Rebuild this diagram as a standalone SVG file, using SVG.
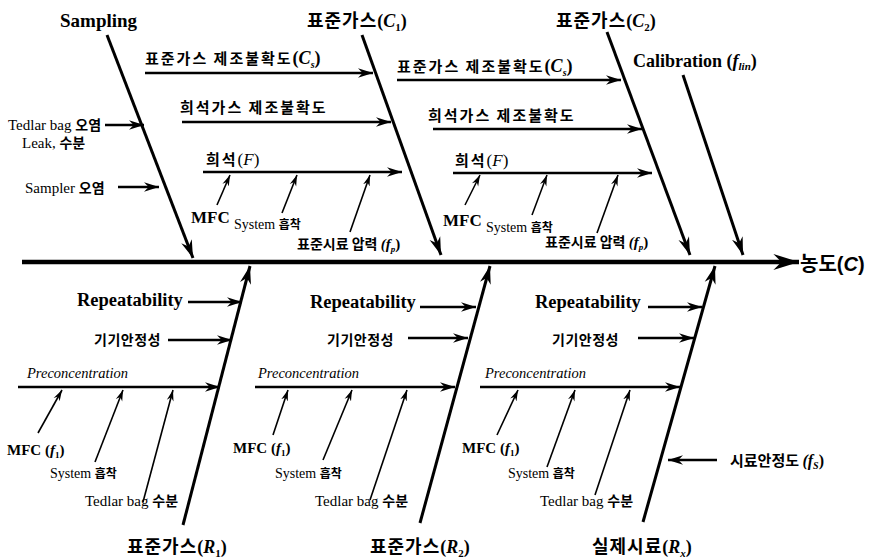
<svg xmlns="http://www.w3.org/2000/svg" width="878" height="558" viewBox="0 0 878 558">
<style>
text{fill:#000}
.ko{font-family:"Noto Sans CJK KR","Noto Sans",sans-serif;font-weight:700}
.se{font-family:"Liberation Serif","Times New Roman",serif}
.sa{font-family:"Liberation Sans",Arial,sans-serif}
.b{font-weight:700}
.i{font-style:italic}
.ln{stroke:#000;fill:none}
.spine{stroke-width:4.5;marker-end:url(#amain)}
.bone{stroke-width:3;marker-end:url(#ah)}
.sub{stroke-width:2.4;marker-end:url(#am)}
.tiny{stroke-width:1.6;marker-end:url(#as)}
.k16{font-size:15px;letter-spacing:2px}
.k14{font-size:14px;letter-spacing:0.5px}
.ttl{font-size:18px;letter-spacing:1px}
</style>
<defs>
<marker id="amain" markerUnits="userSpaceOnUse" viewBox="0 0 16 10" refX="16" refY="5" markerWidth="26" markerHeight="16" orient="auto"><path d="M0,0 L16,5 L0,10 L5,5 Z"/></marker>
<marker id="ah" markerUnits="userSpaceOnUse" viewBox="0 0 16 10" refX="16" refY="5" markerWidth="18" markerHeight="12" orient="auto"><path d="M0,0 L16,5 L0,10 L5,5 Z"/></marker>
<marker id="am" markerUnits="userSpaceOnUse" viewBox="0 0 16 10" refX="16" refY="5" markerWidth="15" markerHeight="10" orient="auto"><path d="M0,0 L16,5 L0,10 L5,5 Z"/></marker>
<marker id="as" markerUnits="userSpaceOnUse" viewBox="0 0 16 10" refX="16" refY="5" markerWidth="11" markerHeight="8" orient="auto"><path d="M0,0 L16,5 L0,10 L5,5 Z"/></marker>
</defs>

<g id="connectors">
<path class="ln spine" d="M22,262 L799,262"/>
<path class="ln bone" d="M107,35 L193,258"/>
<path class="ln bone" d="M362,35 L441,255"/>
<path class="ln bone" d="M607,32 L690,255"/>
<path class="ln bone" d="M683,75 L743,255"/>
<path class="ln bone" d="M183,525 L250,266"/>
<path class="ln bone" d="M420,523 L490,266"/>
<path class="ln bone" d="M643,522 L715,266"/>

<path class="ln sub" d="M105,125 L144,125"/>
<path class="ln sub" d="M118,187 L159,187"/>
<path class="ln sub" d="M145,73 L373,73"/>
<path class="ln sub" d="M182,122 L391,122"/>
<path class="ln sub" d="M203,172 L402,172"/>
<path class="ln sub" d="M397,80 L621,80"/>
<path class="ln sub" d="M433,129 L642,129"/>
<path class="ln sub" d="M453,173 L652,173"/>
<path class="ln sub" d="M188,302 L242,302"/>
<path class="ln sub" d="M168,340 L232,340"/>
<path class="ln sub" d="M18,387 L220,387"/>
<path class="ln sub" d="M420,307 L476,307"/>
<path class="ln sub" d="M408,338 L468,338"/>
<path class="ln sub" d="M255,387 L455,387"/>
<path class="ln sub" d="M648,307 L702,307"/>
<path class="ln sub" d="M638,338 L694,338"/>
<path class="ln sub" d="M480,387 L680,387"/>
<path class="ln sub" d="M717,460 L668,460"/>

<path class="ln tiny" d="M217,205 L230,175"/>
<path class="ln tiny" d="M282,213 L297,175"/>
<path class="ln tiny" d="M350,232 L370,175"/>
<path class="ln tiny" d="M465,205 L480,175"/>
<path class="ln tiny" d="M532,215 L547,175"/>
<path class="ln tiny" d="M597,233 L618,175"/>
<path class="ln tiny" d="M38,433 L62,390"/>
<path class="ln tiny" d="M95,462 L123,390"/>
<path class="ln tiny" d="M143,502 L173,390"/>
<path class="ln tiny" d="M273,435 L288,390"/>
<path class="ln tiny" d="M323,460 L352,390"/>
<path class="ln tiny" d="M370,500 L407,390"/>
<path class="ln tiny" d="M497,435 L518,390"/>
<path class="ln tiny" d="M547,467 L575,390"/>
<path class="ln tiny" d="M595,495 L630,390"/>
</g>

<g id="sampling"><text x="60" y="27" class="se b" font-size="19">Sampling</text></g>
<g id="std-gas-c1"><text x="307" y="27"><tspan class="ko ttl">표준가스</tspan><tspan class="se b" font-size="18">(</tspan><tspan class="se b i" font-size="18">C</tspan><tspan class="se b" font-size="11" dy="4">1</tspan><tspan class="se b" font-size="18" dy="-4">)</tspan></text></g>
<g id="std-gas-c2"><text x="556" y="27"><tspan class="ko ttl">표준가스</tspan><tspan class="se b" font-size="18">(</tspan><tspan class="se b i" font-size="18">C</tspan><tspan class="se b" font-size="11" dy="4">2</tspan><tspan class="se b" font-size="18" dy="-4">)</tspan></text></g>
<g id="calibration"><text x="633" y="67" font-size="18"><tspan class="se b">Calibration (</tspan><tspan class="se b i">f</tspan><tspan class="se b i" font-size="11" dy="3">lin</tspan><tspan class="se b" dy="-3">)</tspan></text></g>

<g id="tedlar-contam"><text x="8" y="130" font-size="15"><tspan class="se">Tedlar bag </tspan><tspan class="ko" font-size="14">오염</tspan></text><text x="22" y="148" font-size="15"><tspan class="se">Leak, </tspan><tspan class="ko" font-size="14">수분</tspan></text></g>
<g id="sampler-contam"><text x="25" y="193" font-size="15"><tspan class="se">Sampler </tspan><tspan class="ko" font-size="14">오염</tspan></text></g>

<g id="cs-1"><text x="145" y="64"><tspan class="ko k16">표준가스 제조불확도</tspan><tspan class="se b" font-size="18">(</tspan><tspan class="se b i" font-size="18">C</tspan><tspan class="se b i" font-size="10" dy="4">s</tspan><tspan class="se b" font-size="18" dy="-4">)</tspan></text></g>
<g id="dil-1"><text x="180" y="113" class="ko k16">희석가스 제조불확도</text></g>
<g id="f-1"><text x="206" y="165"><tspan class="ko k16">희석</tspan><tspan class="se" font-size="17">(</tspan><tspan class="se i" font-size="17">F</tspan><tspan class="se" font-size="17">)</tspan></text></g>
<g id="mfc-1"><text x="191" y="223" class="se b" font-size="17">MFC</text></g>
<g id="sys-1"><text x="234" y="229"><tspan class="se" font-size="14">System </tspan><tspan class="ko" font-size="12">흡착</tspan></text></g>
<g id="fp-1"><text x="297" y="249"><tspan class="ko" font-size="14">표준시료 압력 </tspan><tspan class="se b i" font-size="15">(f</tspan><tspan class="se b i" font-size="9" dy="3">p</tspan><tspan class="se b" font-size="15" dy="-3">)</tspan></text></g>

<g id="cs-2"><text x="397" y="72"><tspan class="ko k16">표준가스 제조불확도</tspan><tspan class="se b" font-size="18">(</tspan><tspan class="se b i" font-size="18">C</tspan><tspan class="se b i" font-size="10" dy="4">s</tspan><tspan class="se b" font-size="18" dy="-4">)</tspan></text></g>
<g id="dil-2"><text x="428" y="121" class="ko k16">희석가스 제조불확도</text></g>
<g id="f-2"><text x="455" y="166"><tspan class="ko k16">희석</tspan><tspan class="se" font-size="17">(</tspan><tspan class="se i" font-size="17">F</tspan><tspan class="se" font-size="17">)</tspan></text></g>
<g id="mfc-2"><text x="443" y="226" class="se b" font-size="17">MFC</text></g>
<g id="sys-2"><text x="486" y="232"><tspan class="se" font-size="14">System </tspan><tspan class="ko" font-size="12">흡착</tspan></text></g>
<g id="fp-2"><text x="545" y="247"><tspan class="ko" font-size="14">표준시료 압력 </tspan><tspan class="se b i" font-size="15">(f</tspan><tspan class="se b i" font-size="9" dy="3">p</tspan><tspan class="se b" font-size="15" dy="-3">)</tspan></text></g>

<g id="concentration"><text x="800" y="271" font-size="20"><tspan class="ko">농도</tspan><tspan class="sa b">(</tspan><tspan class="sa b i">C</tspan><tspan class="sa b">)</tspan></text></g>

<g id="rep-1"><text x="77" y="306" class="se b" font-size="18.5">Repeatability</text></g>
<g id="stab-1"><text x="94" y="345" class="ko k14">기기안정성</text></g>
<g id="pre-1"><text x="27" y="378" class="se i" font-size="14.5">Preconcentration</text></g>
<g id="mfc-r1"><text x="7" y="455" font-size="15"><tspan class="se b">MFC (</tspan><tspan class="se b i">f</tspan><tspan class="se b" font-size="9" dy="3">1</tspan><tspan class="se b" dy="-3">)</tspan></text></g>
<g id="sys-r1"><text x="50" y="478"><tspan class="se" font-size="14">System </tspan><tspan class="ko" font-size="12">흡착</tspan></text></g>
<g id="tedlar-r1"><text x="85" y="506"><tspan class="se" font-size="15">Tedlar bag </tspan><tspan class="ko" font-size="14">수분</tspan></text></g>
<g id="std-gas-r1"><text x="127" y="553"><tspan class="ko ttl">표준가스</tspan><tspan class="se b" font-size="18">(</tspan><tspan class="se b i" font-size="18">R</tspan><tspan class="se b" font-size="11" dy="4">1</tspan><tspan class="se b" font-size="18" dy="-4">)</tspan></text></g>

<g id="rep-2"><text x="310" y="308" class="se b" font-size="18.5">Repeatability</text></g>
<g id="stab-2"><text x="327" y="345" class="ko k14">기기안정성</text></g>
<g id="pre-2"><text x="258" y="378" class="se i" font-size="14.5">Preconcentration</text></g>
<g id="mfc-r2"><text x="233" y="453" font-size="15"><tspan class="se b">MFC (</tspan><tspan class="se b i">f</tspan><tspan class="se b" font-size="9" dy="3">1</tspan><tspan class="se b" dy="-3">)</tspan></text></g>
<g id="sys-r2"><text x="275" y="478"><tspan class="se" font-size="14">System </tspan><tspan class="ko" font-size="12">흡착</tspan></text></g>
<g id="tedlar-r2"><text x="315" y="506"><tspan class="se" font-size="15">Tedlar bag </tspan><tspan class="ko" font-size="14">수분</tspan></text></g>
<g id="std-gas-r2"><text x="370" y="553"><tspan class="ko ttl">표준가스</tspan><tspan class="se b" font-size="18">(</tspan><tspan class="se b i" font-size="18">R</tspan><tspan class="se b" font-size="11" dy="4">2</tspan><tspan class="se b" font-size="18" dy="-4">)</tspan></text></g>

<g id="rep-x"><text x="535" y="308" class="se b" font-size="18.5">Repeatability</text></g>
<g id="stab-x"><text x="552" y="345" class="ko k14">기기안정성</text></g>
<g id="pre-x"><text x="485" y="378" class="se i" font-size="14.5">Preconcentration</text></g>
<g id="mfc-rx"><text x="462" y="453" font-size="15"><tspan class="se b">MFC (</tspan><tspan class="se b i">f</tspan><tspan class="se b" font-size="9" dy="3">1</tspan><tspan class="se b" dy="-3">)</tspan></text></g>
<g id="sys-rx"><text x="508" y="478"><tspan class="se" font-size="14">System </tspan><tspan class="ko" font-size="12">흡착</tspan></text></g>
<g id="tedlar-rx"><text x="540" y="506"><tspan class="se" font-size="15">Tedlar bag </tspan><tspan class="ko" font-size="14">수분</tspan></text></g>
<g id="sample-stab"><text x="730" y="466"><tspan class="ko" font-size="15">시료안정도 </tspan><tspan class="se b i" font-size="16">(f</tspan><tspan class="se b i" font-size="10" dy="3">S</tspan><tspan class="se b" font-size="16" dy="-3">)</tspan></text></g>
<g id="real-sample-rx"><text x="592" y="553"><tspan class="ko ttl">실제시료</tspan><tspan class="se b" font-size="18">(</tspan><tspan class="se b i" font-size="18">R</tspan><tspan class="se b i" font-size="11" dy="4">x</tspan><tspan class="se b" font-size="18" dy="-4">)</tspan></text></g>
</svg>
